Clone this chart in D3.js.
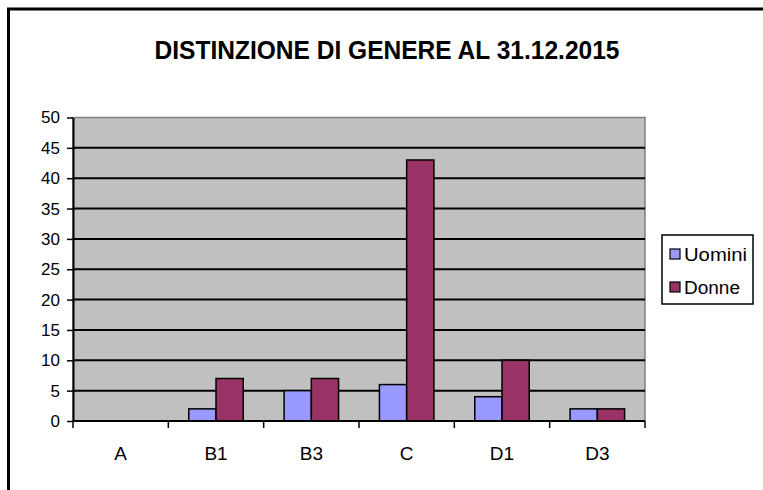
<!DOCTYPE html>
<html>
<head>
<meta charset="utf-8">
<script src="https://cdn.jsdelivr.net/npm/d3@7"></script>
<style>
  body { margin: 0; background: #fff; }
  text { font-family: Arial, "Liberation Sans", sans-serif; }
</style>
</head>
<body>
<div id="chart"></div>
<script>
const categories = ["A", "B1", "B3", "C", "D1", "D3"];
const seriesNames = ["Uomini", "Donne"];
const uomini = [0, 2, 5, 6, 4, 2];
const donne = [0, 7, 7, 43, 10, 2];
const yTicks = [0, 5, 10, 15, 20, 25, 30, 35, 40, 45, 50];
const colors = ["#9999ff", "#993366"];

const W = 763, H = 490;
const plot = { left: 73, top: 117.5, right: 645, bottom: 421 };

const svg = d3.select("#chart").append("svg")
    .attr("width", W)
    .attr("height", H);

// outer frame (only top and left visible in the picture)
svg.append("rect")
    .attr("x", 8.5).attr("y", 9)
    .attr("width", W + 20).attr("height", H + 20)
    .attr("fill", "none")
    .attr("stroke", "#000")
    .attr("stroke-width", 3);

svg.append("text")
    .attr("x", 387).attr("y", 59)
    .attr("text-anchor", "middle")
    .style("font-size", "25px")
    .style("font-weight", "bold")
    .attr("textLength", 465)
    .attr("lengthAdjust", "spacingAndGlyphs")
    .text("DISTINZIONE DI GENERE AL 31.12.2015");

const x = d3.scaleBand()
    .domain(categories)
    .range([plot.left, plot.right]);

// excel-like gap width 150%
const xInner = d3.scaleBand()
    .domain(seriesNames)
    .range([0, x.bandwidth()])
    .paddingOuter(0.75)
    .paddingInner(0);

const y = d3.scaleLinear()
    .domain([0, 50])
    .range([plot.bottom, plot.top]);

// plot background
svg.append("rect")
    .attr("x", plot.left).attr("y", plot.top)
    .attr("width", plot.right - plot.left)
    .attr("height", plot.bottom - plot.top)
    .attr("fill", "#c0c0c0")
    .attr("stroke", "#808080")
    .attr("stroke-width", 1.5);

// gridlines
svg.append("g")
    .selectAll("line")
    .data(yTicks.filter(d => d > 0 && d < 50))
    .enter().append("line")
    .attr("x1", plot.left).attr("x2", plot.right)
    .attr("y1", d => y(d)).attr("y2", d => y(d))
    .attr("stroke", "#000")
    .attr("stroke-width", 2);

// bars
const data = [];
categories.forEach((c, i) => {
    data.push({ cat: c, series: "Uomini", value: uomini[i] });
    data.push({ cat: c, series: "Donne", value: donne[i] });
});

svg.append("g")
    .selectAll("rect")
    .data(data.filter(d => d.value > 0))
    .enter().append("rect")
    .attr("x", d => x(d.cat) + xInner(d.series))
    .attr("y", d => y(d.value))
    .attr("width", xInner.bandwidth())
    .attr("height", d => y(0) - y(d.value))
    .attr("fill", d => colors[seriesNames.indexOf(d.series)])
    .attr("stroke", "#000")
    .attr("stroke-width", 1.5);

// y axis
const yAxis = svg.append("g")
    .attr("transform", "translate(" + plot.left + ",0)")
    .call(d3.axisLeft(y).tickValues(yTicks).tickSize(6).tickPadding(7).tickSizeOuter(0));
yAxis.select(".domain").attr("stroke", "#000").attr("stroke-width", 2);
yAxis.selectAll(".tick line").attr("stroke", "#000").attr("stroke-width", 1.5);
yAxis.selectAll(".tick text")
    .style("font-size", "17px")
    .attr("fill", "#000");

// x axis with ticks between categories
const xBase = svg.append("g");
xBase.append("line")
    .attr("x1", plot.left).attr("x2", plot.right)
    .attr("y1", plot.bottom).attr("y2", plot.bottom)
    .attr("stroke", "#000").attr("stroke-width", 2);
xBase.selectAll(".xt")
    .data(categories.concat([null]))
    .enter().append("line")
    .attr("class", "xt")
    .attr("x1", (d, i) => d ? x(d) : plot.right)
    .attr("x2", (d, i) => d ? x(d) : plot.right)
    .attr("y1", plot.bottom).attr("y2", plot.bottom + 7)
    .attr("stroke", "#000").attr("stroke-width", 1.5);
xBase.selectAll(".xl")
    .data(categories)
    .enter().append("text")
    .attr("class", "xl")
    .attr("x", d => x(d) + x.bandwidth() / 2)
    .attr("y", 460)
    .attr("text-anchor", "middle")
    .style("font-size", "19px")
    .text(d => d);

// legend
const legend = svg.append("g");
legend.append("rect")
    .attr("x", 662).attr("y", 235)
    .attr("width", 91).attr("height", 69)
    .attr("fill", "#fff")
    .attr("stroke", "#000")
    .attr("stroke-width", 1.5);

const items = legend.selectAll(".item")
    .data(seriesNames)
    .enter().append("g")
    .attr("class", "item")
    .attr("transform", (d, i) => "translate(670," + (261 + i * 33) + ")");
items.append("rect")
    .attr("x", 0).attr("y", -12)
    .attr("width", 10).attr("height", 10)
    .attr("fill", (d, i) => colors[i])
    .attr("stroke", "#000")
    .attr("stroke-width", 1.2);
items.append("text")
    .attr("x", 14).attr("y", 0)
    .style("font-size", "18px")
    .attr("textLength", d => d === "Uomini" ? 63 : 56)
    .attr("lengthAdjust", "spacingAndGlyphs")
    .text(d => d);
</script>
</body>
</html>
